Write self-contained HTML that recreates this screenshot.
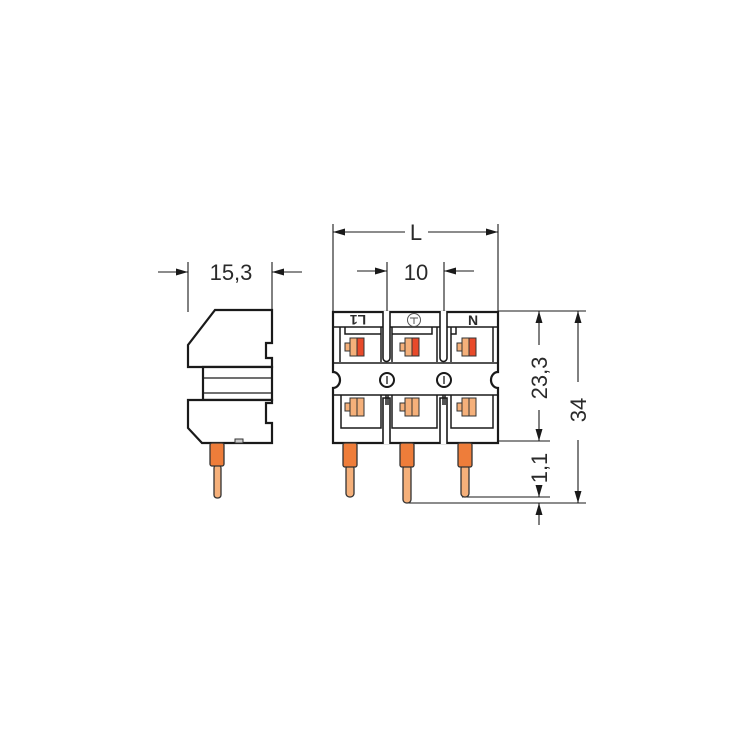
<!DOCTYPE html>
<html><head><meta charset="utf-8"><style>
html,body{margin:0;padding:0;background:#fff;}
svg{display:block;}
text{font-family:"Liberation Sans",sans-serif;fill:#2a2a2a;}
</style></head><body>
<svg width="750" height="750" viewBox="0 0 750 750" xmlns="http://www.w3.org/2000/svg">
<defs>
<marker id="a" viewBox="0 0 12 7" refX="12" refY="3.5" markerWidth="12" markerHeight="7" orient="auto" markerUnits="userSpaceOnUse"><path d="M0,0L12,3.5L0,7z" fill="#1a1a1a"/></marker>
</defs>
<g stroke="#1a1a1a" fill="none" stroke-width="1.1">
<line x1="188" y1="262" x2="188" y2="312"/>
<line x1="272" y1="262" x2="272" y2="312"/>
<line x1="158" y1="272" x2="188" y2="272" marker-end="url(#a)"/>
<line x1="302" y1="272" x2="272" y2="272" marker-end="url(#a)"/>
<line x1="333" y1="224" x2="333" y2="312"/>
<line x1="498" y1="224" x2="498" y2="312"/>
<line x1="405" y1="232" x2="333" y2="232" marker-end="url(#a)"/>
<line x1="428" y1="232" x2="498" y2="232" marker-end="url(#a)"/>
<line x1="387" y1="262" x2="387" y2="366"/>
<line x1="444" y1="262" x2="444" y2="366"/>
<line x1="357" y1="271" x2="387" y2="271" marker-end="url(#a)"/>
<line x1="474" y1="271" x2="444" y2="271" marker-end="url(#a)"/>
<line x1="498" y1="311" x2="586" y2="311"/>
<line x1="498" y1="441" x2="550" y2="441"/>
<line x1="462" y1="497" x2="550" y2="497"/>
<line x1="406" y1="503" x2="586" y2="503"/>
<line x1="539" y1="345" x2="539" y2="311" marker-end="url(#a)"/>
<line x1="539" y1="410" x2="539" y2="441" marker-end="url(#a)"/>
<line x1="539" y1="485" x2="539" y2="497" marker-end="url(#a)"/>
<line x1="539" y1="525" x2="539" y2="503" marker-end="url(#a)"/>
<line x1="578" y1="382" x2="578" y2="311" marker-end="url(#a)"/>
<line x1="578" y1="440" x2="578" y2="503" marker-end="url(#a)"/>
</g>
<text x="231" y="280" font-size="22" text-anchor="middle">15,3</text>
<text x="416" y="240" font-size="22" text-anchor="middle">L</text>
<text x="416" y="280" font-size="22" text-anchor="middle">10</text>
<text transform="translate(547,378) rotate(-90)" font-size="22" text-anchor="middle">23,3</text>
<text transform="translate(586,410) rotate(-90)" font-size="22" text-anchor="middle">34</text>
<text transform="translate(547,468) rotate(-90)" font-size="22" text-anchor="middle">1,1</text>

<g stroke="#1a1a1a" stroke-width="2.2" fill="#fff">
<path d="M215,310 L272,310 L272,343 L266,343 L266,358 L272,358 L272,367 L203,367 L188,367 L188,345 Z"/>
<path d="M203,367 L272,367 L272,400 L203,400 Z"/>
<path d="M188,400 L272,400 L272,403 L266,403 L266,423 L272,423 L272,443 L202,443 L188,428 Z"/>
</g>
<g stroke="#1a1a1a" stroke-width="1.2">
<line x1="203" y1="378" x2="272" y2="378"/>
<line x1="203" y1="393" x2="272" y2="393"/>
</g>
<rect x="235" y="439" width="8" height="4" fill="#ccc" stroke="#333" stroke-width="1"/>
<rect x="214" y="465" width="7" height="33" rx="3" fill="#f5b07a" stroke="#333" stroke-width="1.3"/>
<rect x="210" y="443" width="14" height="23" rx="2" fill="#ee7d3a" stroke="#333" stroke-width="1.3"/>

<g stroke="#1a1a1a" stroke-width="2.2" fill="#fff">
<path d="M333,312 L498,312 L498,372 A7,8 0 0 0 498,388 L498,443 L333,443 L333,388 A7,8 0 0 0 333,372 Z"/>
</g>
<g fill="#fff" stroke="#1a1a1a" stroke-width="1.6">
<path d="M383,311 L383,358 A3.5,3.5 0 0 0 390,358 L390,311"/>
<path d="M440,311 L440,358 A3.5,3.5 0 0 0 447,358 L447,311"/>
<path d="M383,444 L383,398 L390,398 L390,444"/>
<path d="M440,444 L440,398 L447,398 L447,444"/>
</g>
<g stroke="#1a1a1a" stroke-width="1.5" fill="none">
<path d="M333,327 L383,327 M340,327 L340,362 M381,327 L381,362 M345,327 L345,334 L381,334"/>
<path d="M390,327 L440,327 M392,327 L392,362 M437,327 L437,362 M392,334 L432,334 L432,327"/>
<path d="M447,327 L498,327 M451,327 L451,362 M493,327 L493,362 M451,334 L456,334 L456,327"/>
<line x1="333" y1="363" x2="498" y2="363"/>
<line x1="333" y1="395" x2="498" y2="395"/>
<path d="M341,395 L341,428 L381,428 L381,395"/>
<path d="M392,395 L392,428 L437,428 L437,395"/>
<path d="M451,395 L451,428 L493,428 L493,395"/>
<line x1="386" y1="395" x2="386" y2="405"/><line x1="388" y1="395" x2="388" y2="405"/>
<line x1="443" y1="395" x2="443" y2="405"/><line x1="445" y1="395" x2="445" y2="405"/>
</g>
<g stroke="#1a1a1a" stroke-width="2" fill="#fff">
<circle cx="387" cy="380" r="7"/>
<circle cx="444" cy="380" r="7"/>
</g>
<g stroke="#1a1a1a" stroke-width="1.3"><line x1="387" y1="376" x2="387" y2="384"/><line x1="444" y1="376" x2="444" y2="384"/></g>
<text transform="translate(358,315) rotate(180)" font-size="14" font-weight="bold" text-anchor="middle">L1</text>
<circle cx="414" cy="320" r="6.5" fill="none" stroke="#555" stroke-width="1"/>
<path d="M410,318 L418,318 M414,318 L414,324" stroke="#555" stroke-width="1"/>
<text x="473" y="325" font-size="14" font-weight="bold" text-anchor="middle">N</text>
<g stroke="#333" stroke-width="1">
<g id="ct">
<rect x="345" y="343" width="9" height="8" fill="#f5b07a"/>
<rect x="350" y="338" width="7" height="18" fill="#f5b07a"/>
<rect x="357" y="338" width="7" height="18" fill="#e84a2a"/>
</g>
<use href="#ct" x="55"/>
<use href="#ct" x="112"/>
<g id="cb">
<rect x="345" y="403" width="9" height="8" fill="#f5b07a"/>
<rect x="350" y="398" width="14" height="18" fill="#f5b07a"/>
<line x1="357" y1="398" x2="357" y2="416"/>
</g>
<use href="#cb" x="55"/>
<use href="#cb" x="112"/>
</g>
<g stroke="#333" stroke-width="1.3">
<rect x="346" y="465" width="8" height="32" rx="3.5" fill="#f5b07a"/>
<rect x="343" y="443" width="14" height="24" rx="2" fill="#ee7d3a"/>
<rect x="403" y="465" width="8" height="38" rx="3.5" fill="#f5b07a"/>
<rect x="400" y="443" width="14" height="24" rx="2" fill="#ee7d3a"/>
<rect x="461" y="465" width="8" height="32" rx="3.5" fill="#f5b07a"/>
<rect x="458" y="443" width="14" height="24" rx="2" fill="#ee7d3a"/>
</g>
</svg>
</body></html>
